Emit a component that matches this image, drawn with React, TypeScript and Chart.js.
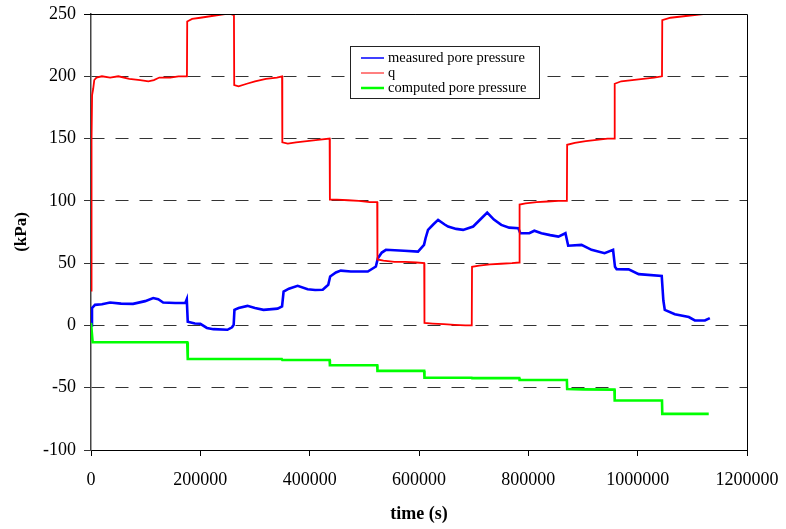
import React, { useEffect, useRef } from "react";
import { Chart, registerables } from "chart.js";

Chart.register(...registerables);

// ---- data ----
const seriesLabels = ["measured pore pressure", "q", "computed pore pressure"];
const seriesColors = ["#0000FF", "#FF0000", "#00FF00"];

const measuredTime = [
  0, 1800, 7300, 20000, 34900, 55000, 77000, 99000, 113800, 123000, 132000, 154000, 172500, 175200,
  177000, 190000, 200000, 212000, 223900, 249500, 258000, 261000, 262400, 270000, 286200, 300000,
  315600, 341300, 349500, 352300, 362000, 378000, 396300, 410000, 423900, 434000, 437500, 448000,
  456900, 475200, 506400, 521100, 524800, 532000, 539500, 572500, 598200, 609200, 612000, 616500,
  626000, 634900, 647000, 653200, 668000, 680700, 699100, 712000, 724800, 737000, 750500, 765000,
  781700, 785300, 801800, 811000, 823900, 840000, 855000, 867900, 872900, 897300, 915600, 939500,
  955000, 958500, 961500, 983500, 1001800, 1044000, 1047000, 1049600, 1068000, 1093600, 1104600,
  1123000, 1132000,
];
const measuredValues = [
  0, 14, 16.5, 17, 18.4, 17.5, 17.3, 19.5, 22, 21, 18.4, 18, 18, 21,
  3, 1.5, 1.3, -2, -3, -3.5, -1.5, 0.5, 12.5, 14, 15.7, 14,
  12.5, 13.5, 15.2, 27.2, 29.5, 31.8, 29.1, 28.5, 28.6, 32.6, 39.3, 42.5,
  44, 43.3, 43.3, 47.3, 54, 58.5, 60.7, 60, 59.3, 64.7, 70, 76.7,
  81, 84.7, 81, 79.4, 77.5, 76.7, 79.4, 85, 90.6, 85, 80.7, 78.5,
  78, 74, 74, 76, 74, 72.5, 71.3, 74, 64, 64.7, 60.7, 58,
  60.7, 47, 45.2, 45, 41.2, 39.8, 20, 12.5, 9, 6.7, 4,
  4, 5.9,
];

const qTime = [
  0, 1000, 2000, 4000, 6000, 10000, 20000, 35000, 50000, 70000, 90000, 105000, 115000, 125000, 145000, 160000, 175500,
  176000, 185000, 200000, 215000, 230000, 245000, 255000, 261500,
  262000, 270000, 285000, 300000, 320000, 340000, 349500,
  350000, 360000, 375000, 395000, 415000, 436500,
  437000, 450000, 470000, 490000, 510000, 523500,
  524000, 535000, 555000, 575000, 595000, 609500,
  610000, 625000, 645000, 665000, 685000, 696500,
  697000, 710000, 730000, 750000, 770000, 783500,
  784000, 795000, 815000, 835000, 855000, 870500,
  871000, 885000, 905000, 925000, 945000, 957500,
  958000, 970000, 990000, 1010000, 1030000, 1044500,
  1045000, 1060000, 1080000, 1100000, 1120000, 1130000,
];
const qValues = [
  28, 150, 185, 190, 197, 199, 200, 199, 200, 198, 197, 196, 197, 199, 199, 200, 200,
  244, 246, 247, 248, 249, 250, 250, 249,
  193, 192, 194, 196, 198, 199, 200,
  147, 146, 147, 148, 149, 150,
  101, 101, 100.5, 100, 99, 99,
  53, 52, 51, 51, 50.5, 50,
  2, 1.5, 1, 0.5, 0, 0,
  47, 48, 49, 49.5, 50, 50.5,
  97, 98, 99, 99.5, 100, 100,
  145, 146.5, 148, 149, 150, 150,
  194, 196, 197, 198, 199, 200,
  245, 247, 248, 249, 250, 250,
];

const computedTime = [
  0, 3000, 176000, 177000, 349000, 350000, 436500, 437000, 523500, 524000, 609500, 610000,
  696500, 697000, 783500, 784000, 870500, 871000, 900000, 957500, 958000, 1044500, 1045000, 1130000,
];
const computedValues = [
  2, -13.5, -13.5, -27, -27, -27.8, -27.8, -32, -32, -36.5, -36.5, -42,
  -42, -42.3, -42.3, -43.8, -43.8, -51, -51.3, -51.5, -60.3, -60.3, -71, -71,
];

const xMin = 0;
const xMax = 1200000;
const xStep = 200000;
const yMin = -100;
const yMax = 250;
const yStep = 50;

const FONT = "'Liberation Serif', 'Times New Roman', serif";

const toPoints = (ts: number[], vs: number[]) => ts.map((t, i) => ({ x: t, y: vs[i] }));

const framePlugin = {
  id: "frameAndLegend",
  afterDatasetsDraw(chart: any) {
    const { ctx, chartArea } = chart;
    const { left, right, top, bottom } = chartArea;
    ctx.save();
    ctx.strokeStyle = "#000";
    ctx.lineWidth = 1;
    ctx.setLineDash([]);
    ctx.beginPath();
    const ty = Math.round(top) + 0.5;
    const rx = Math.round(right) + 0.5;
    ctx.moveTo(left - 7, ty);
    ctx.lineTo(rx, ty);
    ctx.lineTo(rx, Math.round(bottom) + 0.5);
    ctx.stroke();

    // legend box
    const bx = 350.5, by = 46.5, bw = 189, bh = 52;
    ctx.fillStyle = "#fff";
    ctx.fillRect(bx, by, bw, bh);
    ctx.strokeStyle = "#222";
    ctx.strokeRect(bx, by, bw, bh);
    const widths = [1.5, 1, 2.5];
    ctx.font = `14.5px ${FONT}`;
    ctx.textBaseline = "middle";
    ctx.textAlign = "left";
    for (let i = 0; i < seriesLabels.length; i++) {
      const yy = 58 + i * 15;
      ctx.strokeStyle = seriesColors[i];
      ctx.lineWidth = widths[i];
      ctx.beginPath();
      ctx.moveTo(361, yy);
      ctx.lineTo(384, yy);
      ctx.stroke();
      ctx.fillStyle = "#000";
      ctx.fillText(seriesLabels[i], 388, yy);
    }
    ctx.restore();
  },
};

export default function App() {
  const ref = useRef<HTMLCanvasElement | null>(null);

  useEffect(() => {
    document.body.style.margin = "0";
    const canvas = ref.current;
    if (!canvas) return;
    Chart.defaults.font.family = FONT;
    Chart.defaults.color = "#000";

    const chart = new Chart(canvas, {
      type: "line",
      data: {
        datasets: [
          {
            label: seriesLabels[0],
            data: toPoints(measuredTime, measuredValues),
            borderColor: seriesColors[0],
            backgroundColor: seriesColors[0],
            borderWidth: 2.6,
            pointRadius: 0,
            tension: 0,
            order: 2,
          },
          {
            label: seriesLabels[1],
            data: toPoints(qTime, qValues),
            borderColor: seriesColors[1],
            backgroundColor: seriesColors[1],
            borderWidth: 1.8,
            pointRadius: 0,
            tension: 0,
            order: 1,
          },
          {
            label: seriesLabels[2],
            data: toPoints(computedTime, computedValues),
            borderColor: seriesColors[2],
            backgroundColor: seriesColors[2],
            borderWidth: 2.6,
            pointRadius: 0,
            tension: 0,
            order: 0,
          },
        ],
      },
      options: {
        animation: false,
        responsive: false,
        devicePixelRatio: 1,
        events: [],
        layout: { padding: { top: 14, right: 39, left: 0, bottom: 0 } },
        plugins: {
          legend: { display: false },
          tooltip: { enabled: false },
        },
        scales: {
          x: {
            type: "linear",
            min: xMin,
            max: xMax,
            afterFit: (scale: any) => {
              scale.height = 79;
              scale.paddingLeft = 0;
              scale.paddingRight = 0;
            },
            ticks: {
              stepSize: xStep,
              autoSkip: false,
              maxRotation: 0,
              padding: 13,
              color: "#000",
              font: { size: 18, family: FONT },
              callback: (v: any) => String(v),
            },
            grid: {
              drawOnChartArea: false,
              drawTicks: true,
              tickLength: 6,
              tickColor: "#000",
              color: "#000",
            },
            border: { display: true, color: "#000", width: 1 },
            title: {
              display: true,
              text: "time (s)",
              color: "#000",
              font: { size: 18, weight: "bold", family: FONT },
              padding: { top: 0, bottom: 4 },
            },
          },
          y: {
            type: "linear",
            min: yMin,
            max: yMax,
            afterFit: (scale: any) => {
              scale.width = 91;
              scale.paddingTop = 0;
              scale.paddingBottom = 0;
            },
            ticks: {
              stepSize: yStep,
              padding: 8,
              color: "#000",
              font: { size: 18, family: FONT },
              callback: (v: any) => String(v),
            },
            grid: {
              color: "#333",
              lineWidth: 1,
              tickLength: 7,
              tickColor: "#333",
              drawTicks: true,
            },
            border: { display: true, color: "#444", width: 1.5, dash: [13, 11] },
            title: {
              display: true,
              text: "(kPa)",
              color: "#000",
              font: { size: 17, weight: "bold", family: FONT },
              padding: { top: 11, bottom: 0 },
            },
          },
        },
      } as any,
      plugins: [framePlugin],
    });

    return () => {
      chart.destroy();
    };
  }, []);

  return (
    <div style={{ position: "fixed", left: 0, top: 0, width: 786, height: 529, background: "#fff" }}>
      <canvas ref={ref} width={786} height={529} style={{ width: 786, height: 529, display: "block" }} />
    </div>
  );
}
